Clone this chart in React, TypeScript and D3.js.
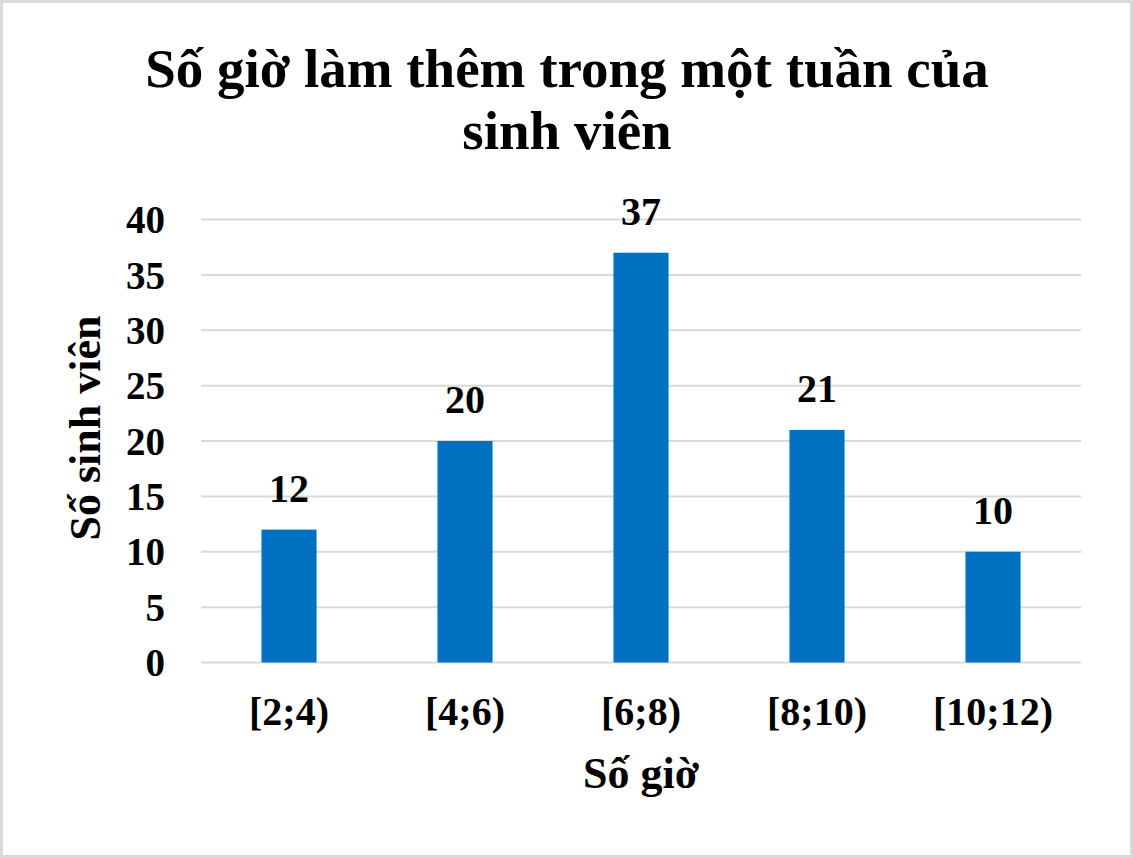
import React from "react";
import * as d3 from "d3";

const categories = ["[2;4)", "[4;6)", "[6;8)", "[8;10)", "[10;12)"];
const values = [12, 20, 37, 21, 10];
const yTicks = [0, 5, 10, 15, 20, 25, 30, 35, 40];
const titleLines = ["Số giờ làm thêm trong một tuần của", "sinh viên"];
const xTitle = "Số giờ";
const yTitle = "Số sinh viên";

const W = 1133;
const H = 858;
const FONT = "'Liberation Serif', 'Times New Roman', serif";

export default function App() {
  const x = d3.scaleBand<string>().domain(categories).range([201, 1081]).paddingInner(0.687).paddingOuter(0.3435);
  const y = d3.scaleLinear().domain([0, 40]).range([662.5, 219.5]);
  return (
    <svg width={W} height={H} style={{ position: "absolute", left: 0, top: 0, background: "#fff" }} fontFamily={FONT} fontWeight="bold">
      <rect x={1.5} y={1.5} width={W - 3} height={H - 3} fill="#fff" stroke="#d9d9d9" strokeWidth={3} />
      {titleLines.map((t, i) => (
        <text key={i} x={567} y={[87, 149][i]} textAnchor="middle" fontSize={55} fill="#000">{t}</text>
      ))}
      {yTicks.map((t) => (
        <g key={t}>
          <line x1={201} x2={1081} y1={y(t)} y2={y(t)} stroke="#d9d9d9" strokeWidth={2} />
          <text x={165} y={y(t)} dy="0.35em" textAnchor="end" fontSize={39} fill="#000">{t}</text>
        </g>
      ))}
      {categories.map((c, i) => (
        <g key={c}>
          <rect x={x(c)} y={y(values[i])} width={x.bandwidth()} height={y(0) - y(values[i])} fill="#0070c0" />
          <text x={(x(c) as number) + x.bandwidth() / 2} y={y(values[i]) - 28} textAnchor="middle" fontSize={40} fill="#000">{values[i]}</text>
          <text x={(x(c) as number) + x.bandwidth() / 2} y={725} textAnchor="middle" fontSize={40} fill="#000">{c}</text>
        </g>
      ))}
      <text x={641} y={788} textAnchor="middle" fontSize={44} fill="#000">{xTitle}</text>
      <text transform={`translate(100, 428) rotate(-90)`} textAnchor="middle" fontSize={44} fill="#000">{yTitle}</text>
    </svg>
  );
}
